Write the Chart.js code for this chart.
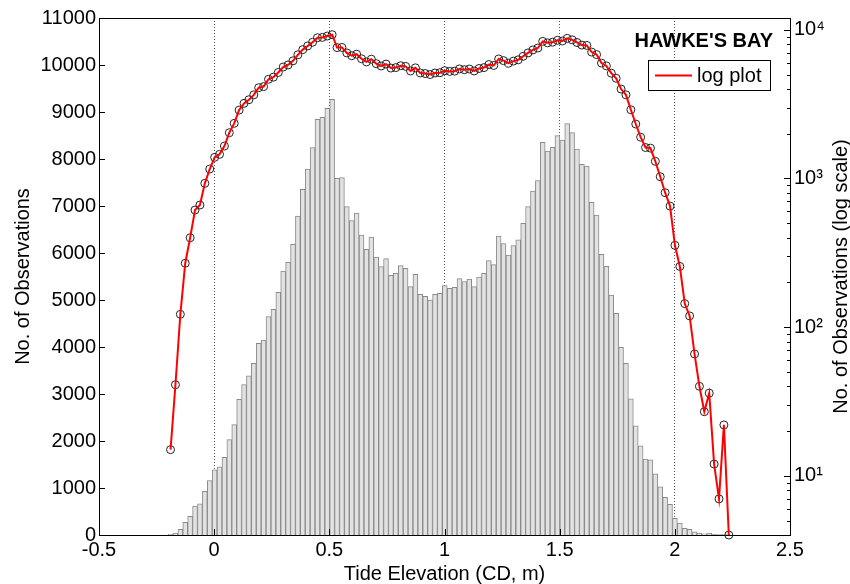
<!DOCTYPE html>
<html>
<head>
<meta charset="utf-8">
<script src="https://cdn.jsdelivr.net/npm/chart.js@4.4.1/dist/chart.umd.min.js"></script>
<style>
html,body{margin:0;padding:0;background:#fff;}
#wrap{width:850px;height:584px;}
</style>
</head>
<body>
<div id="wrap"><canvas id="c" width="850" height="584"></canvas></div>
<script>
// Bin centres (Tide Elevation, CD m)
const binCenters = [
 -0.1894,-0.1681,-0.1468,-0.1256,-0.1043,-0.0831,-0.0618,-0.0405,-0.0193,0.0020,
 0.0233,0.0445,0.0658,0.0870,0.1083,0.1296,0.1508,0.1721,0.1933,0.2146,
 0.2359,0.2571,0.2784,0.2996,0.3209,0.3422,0.3634,0.3847,0.4059,0.4272,
 0.4485,0.4697,0.4910,0.5122,0.5335,0.5548,0.5760,0.5973,0.6185,0.6398,
 0.6611,0.6823,0.7036,0.7248,0.7461,0.7674,0.7886,0.8099,0.8311,0.8524,
 0.8737,0.8949,0.9162,0.9374,0.9587,0.9800,1.0012,1.0225,1.0437,1.0650,
 1.0863,1.1075,1.1288,1.1500,1.1713,1.1926,1.2138,1.2351,1.2563,1.2776,
 1.2989,1.3201,1.3414,1.3626,1.3839,1.4052,1.4264,1.4477,1.4689,1.4902,
 1.5115,1.5327,1.5540,1.5752,1.5965,1.6178,1.6390,1.6603,1.6815,1.7028,
 1.7241,1.7453,1.7666,1.7878,1.8091,1.8304,1.8516,1.8729,1.8941,1.9154,
 1.9367,1.9579,1.9792,2.0004,2.0217,2.0430,2.0642,2.0855,2.1067,2.1280,
 2.1493,2.1705,2.1918,2.2130,2.2343
];
// No. of observations per bin
const counts = [
 15,41,122,269,399,613,663,927,1157,1387,
 1453,1652,2030,2348,2884,3200,3384,3650,4078,4149,
 4645,4802,5163,5617,5801,6184,6787,7355,7787,8241,
 8844,8887,9078,9270,7589,7605,6986,6688,6851,6383,
 6078,6340,5915,5709,5879,5525,5567,5730,5674,5284,
 5546,5121,5078,5000,5121,5142,5305,5248,5269,5454,
 5390,5447,5284,5489,5567,5837,5752,6362,6199,5957,
 6156,6280,6631,6986,7319,7539,8355,8170,8248,8497,
 8404,8752,8560,8213,7886,7851,7078,6809,5972,5716,
 5106,4716,3993,3650,2898,2323,1895,1615,1600,1304,
 1027,802,652,355,256,144,119,66,40,27,
 36,12,7,22,4
];
const xTicks = [-0.5, 0, 0.5, 1, 1.5, 2, 2.5];
const yTicks = [0,1000,2000,3000,4000,5000,6000,7000,8000,9000,10000,11000];
const logMajorTicks = [10, 100, 1000, 10000];
const logMinorTicks = [5,6,7,8,9,20,30,40,50,60,70,80,90,200,300,400,500,600,700,800,900,2000,3000,4000,5000,6000,7000,8000,9000];
const logExponentLabels = {10:'10\u00B9', 100:'10\u00B2', 1000:'10\u00B3', 10000:'10\u2074'};
const siteTitle = "HAWKE'S BAY";
const legendLabel = 'log plot';

const FONT = '"Liberation Sans", Arial, Helvetica, sans-serif';
Chart.defaults.font.family = FONT;
Chart.defaults.font.size = 20;
Chart.defaults.color = '#000';

const pts = binCenters.map((x, i) => ({x: x, y: counts[i]}));

const decor = {
  id: 'decor',
  afterDraw(chart) {
    const {ctx, chartArea: ca, scales} = chart;
    ctx.save();
    ctx.strokeStyle = '#000';
    ctx.lineWidth = 1;
    const seg = (x1, y1, x2, y2) => { ctx.beginPath(); ctx.moveTo(x1, y1); ctx.lineTo(x2, y2); ctx.stroke(); };
    // top border
    seg(ca.left, Math.round(ca.top) + 0.5, ca.right + 1, Math.round(ca.top) + 0.5);
    // left axis inward ticks
    yTicks.forEach(v => {
      const py = Math.round(scales.y.getPixelForValue(v)) + 0.5;
      seg(ca.left, py, ca.left + 6, py);
    });
    // bottom axis inward ticks
    xTicks.forEach(v => {
      const px = Math.round(scales.x.getPixelForValue(v)) + 0.5;
      seg(px, ca.bottom, px, ca.bottom - 6);
    });
    // right log axis ticks
    logMajorTicks.forEach(v => {
      const py = Math.round(scales.y2.getPixelForValue(v)) + 0.5;
      seg(ca.right, py, ca.right - 6, py);
    });
    logMinorTicks.forEach(v => {
      const py = Math.round(scales.y2.getPixelForValue(v)) + 0.5;
      seg(ca.right, py, ca.right - 3, py);
    });
    // right axis title (reads bottom to top)
    ctx.fillStyle = '#000';
    ctx.font = '20px ' + FONT;
    ctx.save();
    ctx.translate(841, (ca.top + ca.bottom) / 2);
    ctx.rotate(-Math.PI / 2);
    ctx.textAlign = 'center';
    ctx.textBaseline = 'middle';
    ctx.fillText('No. of Observations (log scale)', 0, 0);
    ctx.restore();
    // site title
    ctx.font = 'bold 20px ' + FONT;
    ctx.textAlign = 'right';
    ctx.textBaseline = 'middle';
    ctx.fillText(siteTitle, 773, 41);
    // legend box
    ctx.fillStyle = '#fff';
    ctx.fillRect(648, 60, 123, 30);
    ctx.strokeStyle = '#000';
    ctx.strokeRect(648.5, 60.5, 122, 30);
    ctx.strokeStyle = '#ff0000';
    ctx.lineWidth = 2;
    seg(655, 75.5, 692, 75.5);
    ctx.fillStyle = '#000';
    ctx.font = '20px ' + FONT;
    ctx.textAlign = 'left';
    ctx.fillText(legendLabel, 697, 76);
    ctx.restore();
  }
};

new Chart(document.getElementById('c'), {
  type: 'bar',
  data: {
    datasets: [
      {
        type: 'line', label: legendLabel, data: pts, yAxisID: 'y2', xAxisID: 'x',
        borderColor: '#ff0000', borderWidth: 2, pointRadius: 0, tension: 0, fill: false, order: 1, clip: false
      },
      {
        type: 'line', label: 'markers', data: pts, yAxisID: 'y2', xAxisID: 'x',
        showLine: false, pointStyle: 'circle', pointRadius: 4, pointBorderWidth: 1,
        pointBorderColor: '#222', pointBackgroundColor: 'rgba(0,0,0,0)', order: 2, clip: false
      },
      {
        type: 'bar', label: 'counts', data: pts, yAxisID: 'y', xAxisID: 'x',
        backgroundColor: '#e2e2e2', borderColor: '#8a8a8a', borderWidth: 1,
        barPercentage: 1, categoryPercentage: 1, order: 3
      }
    ]
  },
  options: {
    responsive: false,
    animation: false,
    layout: {padding: {top: 18, left: 0, right: 0, bottom: 0}},
    plugins: {legend: {display: false}, tooltip: {enabled: false}},
    scales: {
      x: {
        type: 'linear', position: 'bottom', min: -0.5, max: 2.5, offset: false,
        afterBuildTicks: s => { s.ticks = xTicks.map(v => ({value: v})); },
        afterFit: s => { s.height = 49; },
        ticks: {padding: 3, callback: v => String(v)},
        grid: {
          offset: false, drawTicks: false, lineWidth: 1,
          color: ctx => (ctx.tick && (ctx.tick.value === -0.5 || ctx.tick.value === 2.5)) ? 'rgba(0,0,0,0)' : '#555'
        },
        border: {display: true, color: '#000', width: 1, dash: [1, 2]},
        title: {display: true, text: 'Tide Elevation (CD, m)', font: {size: 20, lineHeight: 1}, padding: {top: 0, bottom: 0}}
      },
      y: {
        type: 'linear', position: 'left', min: 0, max: 11000,
        afterBuildTicks: s => { s.ticks = yTicks.map(v => ({value: v})); },
        afterFit: s => { s.width = 99; },
        ticks: {padding: 3, callback: v => String(v)},
        grid: {display: false, drawTicks: false},
        border: {display: true, color: '#000', width: 1},
        title: {display: true, text: 'No. of Observations', font: {size: 20, lineHeight: 1}, padding: {top: 13, bottom: 0}}
      },
      y2: {
        type: 'logarithmic', position: 'right', min: 4, max: 12000,
        afterBuildTicks: s => { s.ticks = logMajorTicks.map(v => ({value: v, major: true})); },
        afterFit: s => { s.width = 60; },
        ticks: {padding: 4, callback: v => logExponentLabels[v] || ''},
        grid: {display: false, drawTicks: false},
        border: {display: true, color: '#000', width: 1}
      }
    }
  },
  plugins: [decor]
});
</script>
</body>
</html>
